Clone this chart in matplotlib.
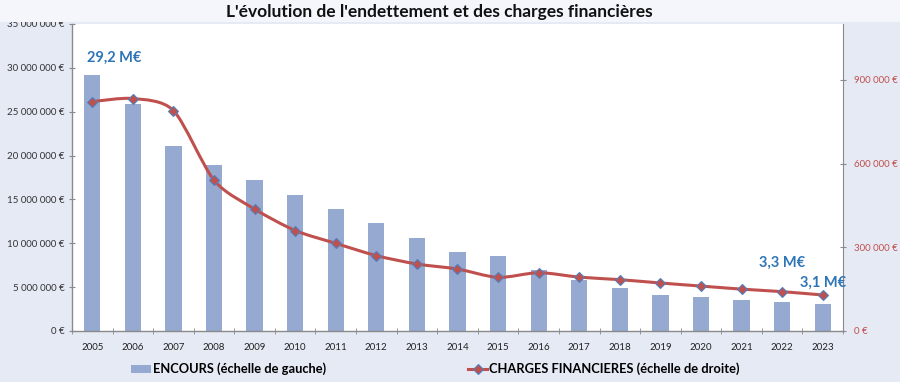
import matplotlib
matplotlib.use("Agg")
import matplotlib.pyplot as plt
from matplotlib.path import Path
from matplotlib.patches import PathPatch, Rectangle
from matplotlib.lines import Line2D
from matplotlib.ticker import FuncFormatter, MultipleLocator, FixedLocator
import numpy as np

years = ["2005", "2006", "2007", "2008", "2009", "2010", "2011", "2012", "2013", "2014",
         "2015", "2016", "2017", "2018", "2019", "2020", "2021", "2022", "2023"]
encours = [29.2e6, 25.9e6, 21.1e6, 18.9e6, 17.2e6, 15.5e6, 13.9e6, 12.3e6, 10.6e6, 9.05e6,
           8.5e6, 7.0e6, 5.8e6, 4.9e6, 4.1e6, 3.85e6, 3.5e6, 3.3e6, 3.1e6]
charges = [822e3, 833e3, 790e3, 540e3, 437e3, 360e3, 314e3, 270e3, 240e3, 222e3,
           192e3, 209e3, 193e3, 184e3, 172e3, 161e3, 150e3, 141e3, 129e3]
annotations = ["29,2 M€", "3,3 M€", "3,1 M€"]

FONT = ["Lato", "DejaVu Sans"]
plt.rcParams['font.family'] = FONT

BAR_C = "#95a9d1"
LINE_C = "#c0504d"
MARK_EDGE = "#4f81bd"
BG = "#e6eaf5"
ANN_C = "#2e75b6"

fig = plt.figure(figsize=(9, 3.82), dpi=100)
fig.patch.set_facecolor(BG)
fig.patches.append(Rectangle((0, 1 - 22/382), 1, 22/382, transform=fig.transFigure,
                             facecolor="#f4f6fb", edgecolor="none", zorder=0))

ax = fig.add_axes([72/900, 1 - 331/382, (843 - 72)/900, (331 - 24)/382])
ax.set_facecolor("white")
x = np.arange(len(years))
ax.bar(x, encours, width=0.4, color=BAR_C, zorder=2)
ax.set_xlim(-0.5, len(years) - 0.5)
ax.set_ylim(0, 35e6)
ax.yaxis.set_major_locator(MultipleLocator(5e6))

def eur_fmt(v, pos):
    s = f"{int(round(v)):,}".replace(",", " ")
    return s + " €"

ax.yaxis.set_major_formatter(FuncFormatter(eur_fmt))
ax.set_xticks(x)
ax.set_xticklabels(years)
ax.tick_params(axis='x', length=0, labelsize=7, colors="#222222", pad=9)
ax.xaxis.set_minor_locator(FixedLocator(np.arange(-0.5, len(years) + 0.5, 1)))
ax.tick_params(axis='x', which='minor', length=4, color="#8a8a8a", direction='inout')
ax.tick_params(axis='y', length=4, color="#8a8a8a", labelsize=7, labelcolor="#333333", direction='inout')
for s in ["top", "right"]:
    ax.spines[s].set_visible(False)
for s in ["left", "bottom"]:
    ax.spines[s].set_color("#8a8a8a")
    ax.spines[s].set_linewidth(1.0)

ax2 = ax.twinx()
ax2.set_ylim(0, 1.1e6)
ax2.yaxis.set_major_locator(MultipleLocator(300e3))
ax2.yaxis.set_major_formatter(FuncFormatter(eur_fmt))
ax2.tick_params(axis='y', length=4, color="#8a8a8a", labelsize=7, labelcolor="#c0504d", direction='inout', pad=6)
for s in ["top", "left", "bottom"]:
    ax2.spines[s].set_visible(False)
ax2.spines["right"].set_color("#8a8a8a")

# smooth line (Catmull-Rom -> cubic Bezier, reduced tension)
pts = np.column_stack([x, charges]).astype(float)
verts = [tuple(pts[0])]
codes = [Path.MOVETO]
n = len(pts)
k = 1.0 / 7.5
for i in range(n - 1):
    p0 = pts[i - 1] if i > 0 else pts[i]
    p1 = pts[i]
    p2 = pts[i + 1]
    p3 = pts[i + 2] if i + 2 < n else pts[i + 1]
    c1 = p1 + (p2 - p0) * k
    c2 = p2 - (p3 - p1) * k
    verts += [tuple(c1), tuple(c2), tuple(p2)]
    codes += [Path.CURVE4] * 3
ax2.add_patch(PathPatch(Path(verts, codes), facecolor="none", edgecolor=LINE_C, lw=2.2, zorder=3))
ax2.plot(x, charges, linestyle="none", marker="D", markersize=5, markerfacecolor=LINE_C,
         markeredgecolor=MARK_EDGE, markeredgewidth=0.8, zorder=4)

ann_kw = dict(color=ANN_C, fontsize=10.5, fontweight="bold", ha="center", va="center")
ax.text(x[0] + 0.53, encours[0] + 2.0e6, annotations[0], **ann_kw)
ax2.text(x[17], charges[17] + 103e3, annotations[1], **ann_kw)
ax2.text(x[18], charges[18] + 43e3, annotations[2], **ann_kw)

fig.text(0.488, 1 - 12/382, "L'évolution de l'endettement et des charges financières",
         ha="center", va="center", fontsize=12.5, fontweight="bold", color="#111111")

h1 = Rectangle((0, 0), 1, 1, facecolor=BAR_C, edgecolor="none")
h2 = Line2D([0], [0], color=LINE_C, lw=2.2, marker="D", markersize=5,
            markerfacecolor=LINE_C, markeredgecolor=MARK_EDGE, markeredgewidth=0.8)
fig.legend([h1, h2], ["ENCOURS (échelle de gauche)", "CHARGES FINANCIERES (échelle de droite)"],
           loc="center", bbox_to_anchor=(0.484, 1 - 369/382), ncol=2, frameon=False,
           prop={"family": FONT, "weight": "bold", "size": 9.3}, columnspacing=11,
           handlelength=1.5, handletextpad=0.15, handleheight=0.6)

fig.savefig("out.png", dpi=100, facecolor=fig.get_facecolor())
